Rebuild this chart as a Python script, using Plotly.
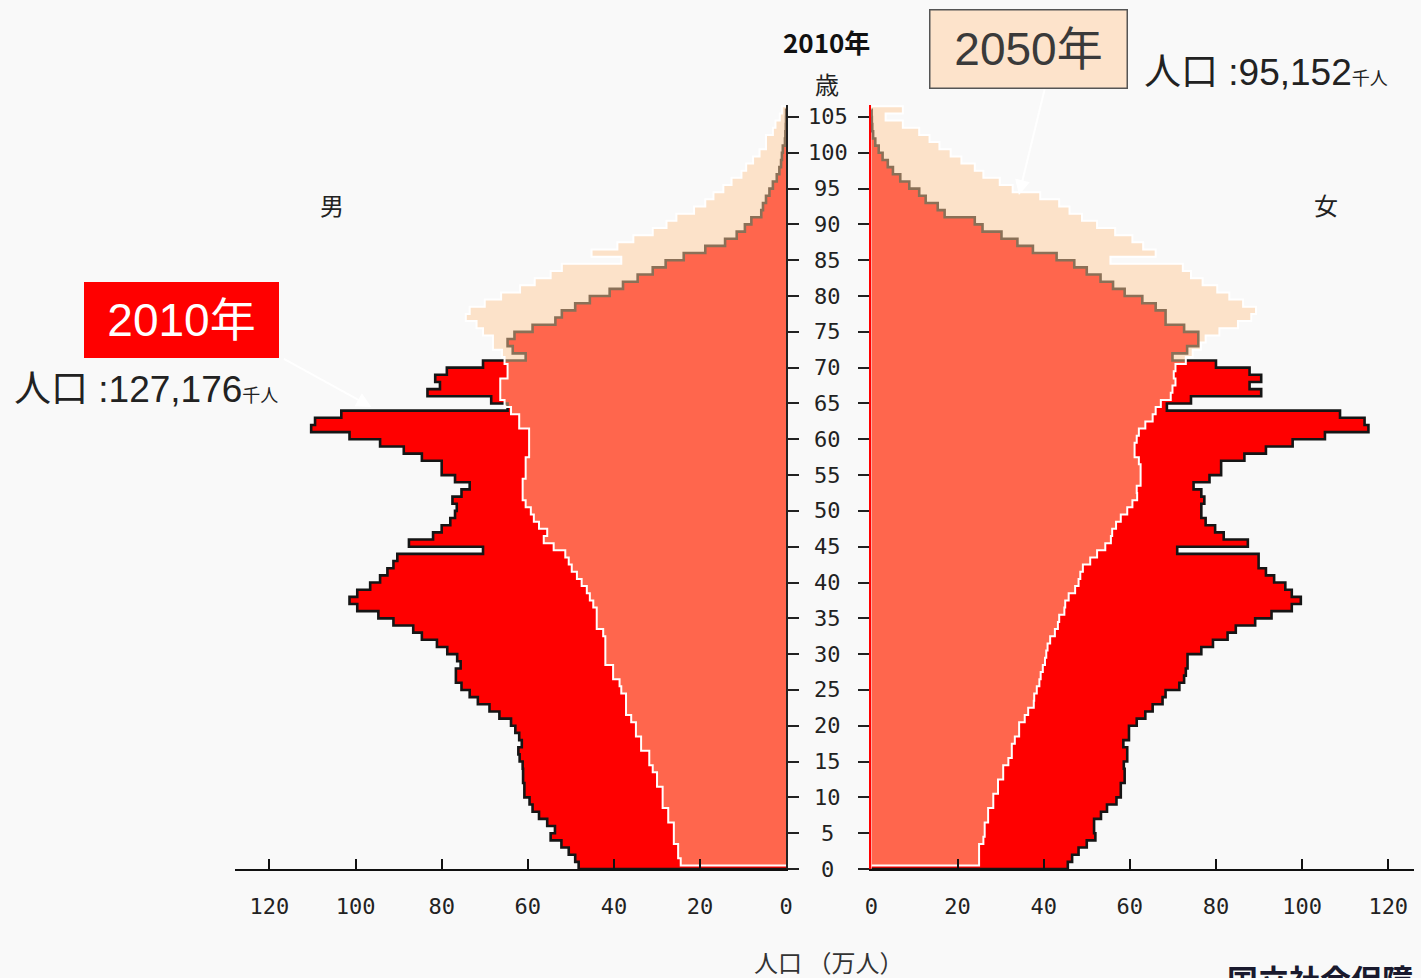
import plotly.graph_objects as go

# ---------------- data (万人, index = age 0..105) ----------------
ages = list(range(106))

male_2010 = [48.2, 49.0, 50.5, 52.2, 54.7, 53.7, 55.5, 57.4, 58.9, 59.6,
             60.8, 60.8, 61.1, 61.1, 61.2, 61.9, 62.2, 61.4, 62.0, 62.9,
             63.9, 66.6, 68.9, 71.6, 73.5, 75.4, 76.7, 76.7, 75.6, 76.4,
             78.7, 81.1, 84.6, 86.6, 91.2, 94.7, 99.6, 101.4, 99.6, 96.6,
             94.3, 92.6, 91.2, 90.3, 70.4, 87.6, 82.0, 80.0, 78.0, 76.9,
             76.5, 77.5, 75.4, 73.5, 76.9, 80.0, 80.0, 84.6, 88.8, 94.3,
             101.4, 110.3, 109.4, 103.3, 64.7, 68.5, 83.3, 80.4, 81.5, 78.8,
             70.4, 60.5, 63.5, 64.7, 63.1, 58.9, 53.6, 52.1, 49.0, 45.6,
             41.0, 37.9, 34.5, 31.0, 28.0, 23.8, 18.8, 14.2, 11.5, 9.6,
             8.1, 5.8, 5.4, 4.7, 3.9, 3.1, 2.2, 1.6, 1.2, 1.0,
             0.8, 0.3, 0.2, 0.1, 0.05, 0.03]

male_2050 = [24.5, 25.1, 25.1, 26.1, 26.1, 26.1, 27.4, 27.4, 28.7, 28.7,
             28.7, 30.0, 30.0, 31.0, 31.8, 31.8, 33.7, 33.7, 34.9, 34.9,
             36.0, 37.2, 37.2, 37.2, 38.3, 38.7, 40.2, 40.2, 42.0, 42.0,
             42.0, 42.0, 42.5, 44.0, 44.0, 44.0, 44.8, 45.6, 46.3, 47.5,
             48.6, 49.8, 50.5, 51.3, 54.0, 56.3, 55.5, 57.4, 58.6, 59.3,
             60.5, 61.2, 61.2, 61.2, 60.5, 60.5, 60.5, 59.7, 59.7, 59.7,
             59.7, 62.0, 62.0, 63.9, 65.4, 66.4, 66.4, 66.4, 64.7, 64.7,
             65.4, 66.0, 68.1, 68.1, 70.4, 71.9, 74.4, 73.5, 70.0, 66.2,
             61.8, 58.4, 54.7, 52.1, 38.3, 45.2, 39.2, 35.5, 31.0, 27.8,
             25.5, 21.4, 18.8, 16.9, 14.6, 12.7, 10.4, 9.3, 7.7, 6.2,
             4.7, 4.7, 3.1, 2.5, 1.5, 1.0]

female_2010 = [45.6, 46.6, 48.1, 50.0, 52.0, 51.7, 51.7, 53.3, 54.7, 56.9,
               57.9, 57.9, 58.8, 58.8, 58.6, 59.4, 59.4, 58.5, 59.8, 59.8,
               61.6, 63.6, 65.3, 67.6, 68.3, 71.5, 72.6, 73.0, 73.4, 73.4,
               76.6, 79.3, 82.7, 84.6, 89.1, 92.9, 97.6, 99.7, 97.6, 96.1,
               93.5, 91.6, 89.9, 89.9, 71.0, 87.4, 81.8, 79.8, 77.6, 76.6,
               76.6, 77.3, 76.6, 74.8, 78.5, 81.2, 81.2, 86.6, 91.6, 97.8,
               105.3, 115.4, 114.5, 108.8, 68.6, 74.2, 90.5, 87.8, 90.5, 87.8,
               80.0, 69.9, 73.3, 75.9, 75.9, 72.6, 68.3, 68.3, 66.0, 62.9,
               58.8, 56.1, 53.2, 50.0, 47.1, 43.0, 37.5, 33.9, 30.2, 25.8,
               24.0, 17.0, 15.4, 12.6, 11.1, 8.8, 6.7, 5.0, 3.8, 2.6,
               1.7, 0.9, 0.4, 0.2, 0.1, 0.05]

female_2050 = [25.0, 25.0, 25.0, 26.0, 26.3, 26.3, 27.1, 27.1, 28.3, 28.3,
               29.4, 29.4, 30.6, 30.6, 31.8, 32.6, 32.6, 33.3, 34.3, 34.3,
               35.6, 36.4, 37.7, 37.8, 38.4, 39.0, 39.3, 39.8, 40.3, 40.6,
               40.9, 41.5, 42.6, 43.3, 43.6, 44.8, 45.0, 45.8, 47.3, 48.1,
               48.5, 49.1, 50.8, 52.4, 54.3, 55.6, 55.9, 56.8, 57.9, 59.4,
               60.6, 61.7, 61.6, 62.5, 62.5, 62.5, 62.1, 61.1, 61.1, 61.6,
               62.1, 63.6, 65.3, 66.0, 67.2, 69.5, 69.9, 70.6, 70.2, 70.6,
               73.0, 74.6, 76.5, 77.6, 80.8, 85.1, 88.2, 89.3, 86.3, 83.1,
               80.3, 76.9, 74.2, 72.3, 55.5, 66.0, 63.1, 60.6, 56.6, 52.4,
               48.9, 46.0, 43.6, 39.2, 32.8, 29.8, 26.0, 24.0, 20.9, 18.4,
               15.8, 13.5, 11.1, 7.3, 3.3, 7.3]

x_ticks = [0, 20, 40, 60, 80, 100, 120]
age_ticks = list(range(0, 106, 5))

# ---------------- layout helpers ----------------
W, H = 1421, 978
BG = "#f9f9f9"
RED = "#ff0000"
DARK = "#151515"
PEACH = "rgba(255,204,153,0.5)"
MONO = "DejaVu Sans Mono, Liberation Mono, monospace"
JP = "Noto Sans CJK JP, Noto Sans, sans-serif"
SANS = "Liberation Sans, Arial, Noto Sans CJK JP, sans-serif"


def px(x):
    return x / W


def py(y):
    return 1 - y / H


def step_path(vals, offset):
    xs, ys = [0], [offset]
    for i, v in enumerate(vals):
        xs.append(v)
        ys.append(offset + i)
    xs.append(0)
    ys.append(offset + len(vals))
    return xs, ys


fig = go.Figure()


def add_side(v2010, v2050, xa, ya):
    x1, y1 = step_path(v2010, 0.0)
    fig.add_trace(go.Scatter(
        x=x1, y=y1, mode="lines", fill="toself", fillcolor=RED,
        line=dict(shape="vh", color=DARK, width=2.6, simplify=False),
        xaxis=xa, yaxis=ya, hoverinfo="skip", showlegend=False))
    x2, y2 = step_path(v2050, 0.5)
    fig.add_trace(go.Scatter(
        x=x2, y=y2, mode="lines", fill="toself", fillcolor=PEACH,
        line=dict(shape="vh", color="white", width=2, simplify=False),
        xaxis=xa, yaxis=ya, hoverinfo="skip", showlegend=False))


add_side(male_2010, male_2050, "x", "y")
add_side(female_2010, female_2050, "x2", "y2")

ydom = [py(869), py(105)]
yrange = [0, (869 - 105) / 7.162]
scale = 4.35

xcommon = dict(
    tickvals=x_ticks, ticktext=[str(t) for t in x_ticks],
    ticks="inside", ticklen=10, tickwidth=2, tickcolor="#111",
    showline=True, linecolor="#111", linewidth=2,
    showgrid=False, zeroline=False, fixedrange=True,
    tickfont=dict(family=MONO, size=22, color="#222"),
    ticklabelstandoff=17,
)
ycommon = dict(
    domain=ydom, range=yrange, tickvals=age_ticks,
    ticks="outside", ticklen=11, tickwidth=2, tickcolor="#222",
    showticklabels=False, showline=True, linewidth=2,
    showgrid=False, zeroline=False, fixedrange=True,
)

fig.update_layout(
    width=W, height=H,
    margin=dict(l=0, r=0, t=0, b=0),
    paper_bgcolor=BG, plot_bgcolor=BG,
    xaxis=dict(domain=[px(230), px(787)], range=[(787 - 230) / scale, 0],
               anchor="y", **xcommon),
    xaxis2=dict(domain=[px(873), 1.0], range=[0, (W - 873) / scale],
                anchor="y2", **xcommon),
    yaxis=dict(anchor="x", side="right", linecolor="#222", **ycommon),
    yaxis2=dict(anchor="x2", side="left", linecolor=RED, **ycommon),
)

ann = []
# age labels between the two panels
for a in age_ticks:
    ann.append(dict(x=px(829), y=a, xref="paper", yref="y", text=str(a),
                    showarrow=False, xanchor="center", yanchor="middle",
                    font=dict(family=MONO, size=22, color="#222")))

ann += [
    dict(x=px(828), y=py(42), text="<b>2010年</b>", font=dict(family=JP, size=26, color="#111")),
    dict(x=px(828), y=py(84), text="歳", font=dict(family=JP, size=24, color="#222")),
    dict(x=px(328), y=py(204), text="男", font=dict(family=JP, size=24, color="#222")),
    dict(x=px(1332), y=py(204), text="女", font=dict(family=JP, size=24, color="#222")),
    dict(x=px(830), y=py(961), text="人口 （万人）", font=dict(family=JP, size=24, color="#333")),
    # 2050 box
    dict(x=px(1032), y=py(48.5), text="2050年", width=196, height=77, borderpad=0,
         bgcolor="#fde3cb", bordercolor="#555", borderwidth=1.5,
         font=dict(family=SANS, size=46, color="#3a3a3a")),
    dict(x=px(1146), y=py(73), xanchor="left",
         text="人口 :95,152<span style='font-size:18px'>千人</span>",
         font=dict(family=SANS, size=37, color="#222")),
    # 2010 box
    dict(x=px(176.5), y=py(320), text="2010年", width=195, height=76, borderpad=0,
         bgcolor=RED, borderwidth=0,
         font=dict(family=SANS, size=46, color="white")),
    dict(x=px(5), y=py(390), xanchor="left",
         text="人口 :127,176<span style='font-size:18px'>千人</span>",
         font=dict(family=SANS, size=37, color="#222")),
    # institute name (cut at bottom-right, as in the reference)
    dict(x=px(1230), y=py(978), xanchor="left",
         text="<b>国立社会保障・人口問題研究所</b>",
         font=dict(family=JP, size=31, color="#1a1a2e")),
]
for a_ in ann[len(age_ticks):]:
    a_.setdefault("xref", "paper")
    a_.setdefault("yref", "paper")
    a_.setdefault("showarrow", False)
    a_.setdefault("xanchor", "center")
    a_.setdefault("yanchor", "middle")

# arrows
ann.append(dict(x=px(1022), y=py(195), xref="paper", yref="paper", text="",
                showarrow=True, ax=26, ay=-107, arrowcolor="white",
                arrowwidth=2, arrowhead=2, arrowsize=1.5))
ann.append(dict(x=px(368), y=py(407), xref="paper", yref="paper", text="",
                showarrow=True, ax=-89, ay=-49, arrowcolor="white",
                arrowwidth=2, arrowhead=2, arrowsize=1.5))

fig.update_layout(annotations=ann)

fig.write_html("out.html", config={"displayModeBar": False},
               post_script="document.body.style.margin='0';document.body.style.overflow='hidden';")
